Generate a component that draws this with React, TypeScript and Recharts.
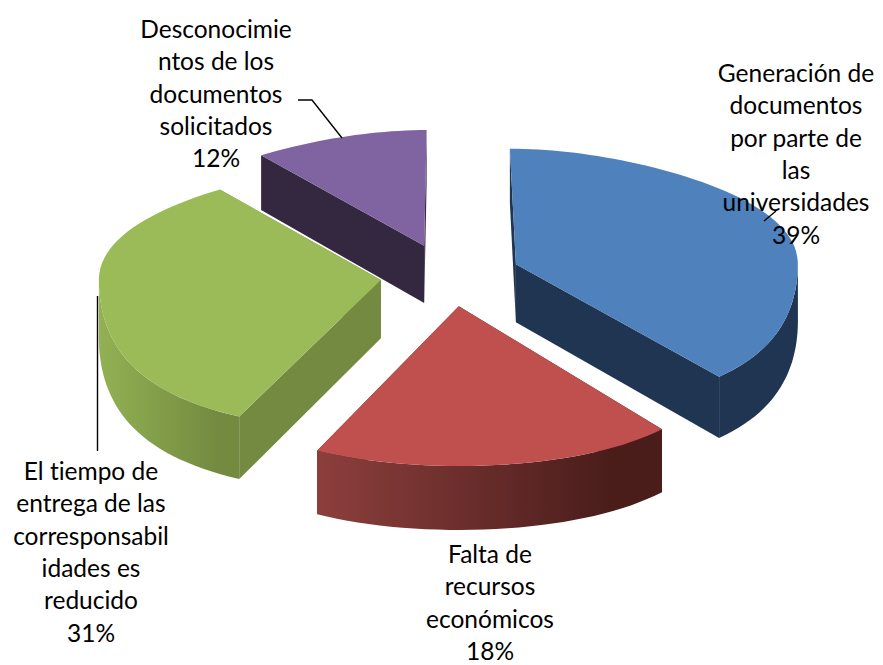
import { Pie, PieChart } from "recharts";

const categories = [
  "Generación de documentos por parte de las universidades",
  "Falta de recursos económicos",
  "El tiempo de entrega de las corresponsabilidades es reducido",
  "Desconocimientos de los documentos solicitados",
];
const percents = [39, 18, 31, 12];
const labelLines = [
  ["Generación de", "documentos", "por parte de", "las", "universidades", "39%"],
  ["Falta de", "recursos", "económicos", "18%"],
  ["El tiempo de", "entrega de las", "corresponsabil", "idades es", "reducido", "31%"],
  ["Desconocimie", "ntos de los", "documentos", "solicitados", "12%"],
];
const topColors = ["#4F81BD", "#C0504D", "#9BBB59", "#8064A2"];
const sideColors = ["#1F3552", "#4A1D1B", "#738A40", "#332840"];
const rimFrom = ["#1F3552", "#8C3F3D", "#92B153", "#332840"];
const rimTo = ["#1F3552", "#4A1D1B", "#738A40", "#332840"];

// layout of the labels and their leader lines (first baseline of each label)
const labelX = [796, 490, 91, 216];
const labelY = [82, 563, 480, 38];
const lineStep = 32.3;
const leaders = ["M776 211 L764 221", "", "M97.5 296 L97.5 451", "M298 100 L312 100 L342 138"];

const data = categories.map((name, i) => ({ name, value: percents[i], index: i }));

const RAD = Math.PI / 180;
const EXPLODE = 70;
const SQUASH = 0.45;
const LEAN = 0.09;

const depthAt = (y: number) => 50 + 0.03 * y;

function SliceShape(props: any) {
  const { cx, cy, outerRadius, startAngle, endAngle, midAngle, payload } = props;
  const i = payload.index ?? props.index;
  const R = outerRadius;
  // recharts angles are counter clockwise from 3 o'clock, the pie is read clockwise from 12
  const from = 90 - startAngle;
  const to = 90 - endAngle;
  const mid = (90 - midAngle) * RAD;
  const ax = cx + EXPLODE * Math.sin(mid);
  const ay = cy - EXPLODE * SQUASH * Math.cos(mid);

  // fake perspective: the front of the pie is wider and taller than the back
  const rim = (deg: number): [number, number] => {
    const u = Math.sin(deg * RAD);
    const v = -Math.cos(deg * RAD);
    const near = 1 + 0.0022 * (ay - cy);
    const ry = v > 0 ? 0.53 * near : 0.41 + 0.11 * (1 + v);
    const wide = v > 0 ? 1 + 0.22 * v * v : 1 - 0.28 * v * v;
    const lean = v < 0 ? -(ax - cx) * LEAN * v * v : 0;
    return [ax + lean + R * u * wide, ay + R * ry * v];
  };
  const down = ([x, y]: [number, number]): [number, number] => [x, y + depthAt(y)];
  const poly = (pts: [number, number][]) =>
    pts.map((p, k) => `${k ? "L" : "M"}${p[0].toFixed(1)} ${p[1].toFixed(1)}`).join(" ") + " Z";
  const arc = (a: number, b: number) => {
    const pts: [number, number][] = [];
    const n = Math.max(2, Math.ceil(Math.abs(b - a) / 2));
    for (let k = 0; k <= n; k++) pts.push(rim(a + ((b - a) * k) / n));
    return pts;
  };

  const apex: [number, number] = [ax, ay];
  const top = arc(from, to);
  const frontA = Math.max(from, 90);
  const frontB = Math.min(to, 270);
  const front = frontB > frontA ? arc(frontA, frontB) : [];
  const gradId = `rim-${i}`;

  return (
    <g>
      <defs>
        <linearGradient id={gradId} x1="0" y1="0" x2="1" y2="0">
          <stop offset="0" stopColor={rimFrom[i]} />
          <stop offset="0.85" stopColor={rimTo[i]} />
        </linearGradient>
      </defs>
      <path d={poly([apex, rim(from), down(rim(from)), down(apex)])} fill={sideColors[i]} />
      <path d={poly([apex, rim(to), down(rim(to)), down(apex)])} fill={sideColors[i]} />
      {front.length > 0 && (
        <path d={poly([...front, ...front.map(down).reverse()])} fill={`url(#${gradId})`} />
      )}
      <path d={poly([apex, ...top])} fill={topColors[i]} />
    </g>
  );
}

function SliceLabel(props: any) {
  const i = props.index;
  const font = { fontFamily: "Lato, 'Open Sans', sans-serif", fontSize: 24.5, fill: "#000" };
  return (
    <g>
      {leaders[i] && <path d={leaders[i]} fill="none" stroke="#000" strokeWidth={1.4} />}
      <text textAnchor="middle" style={{ fontVariantLigatures: "none" }} {...font}>
        {labelLines[i].map((line, k) => (
          <tspan key={k} x={labelX[i]} y={labelY[i] + k * lineStep}>
            {line}
          </tspan>
        ))}
      </text>
    </g>
  );
}

export default function App() {
  return (
    <div style={{ position: "absolute", left: 0, top: 0, width: 883, height: 665, background: "#fff" }}>
      <PieChart width={883} height={665} margin={{ top: 0, right: 0, bottom: 0, left: 0 }}>
        <Pie
          data={data}
          dataKey="value"
          nameKey="name"
          cx={450}
          cy={275}
          outerRadius={282}
          startAngle={90}
          endAngle={-270}
          stroke="none"
          shape={SliceShape}
          label={SliceLabel}
          labelLine={false}
          isAnimationActive={false}
        />
      </PieChart>
    </div>
  );
}
